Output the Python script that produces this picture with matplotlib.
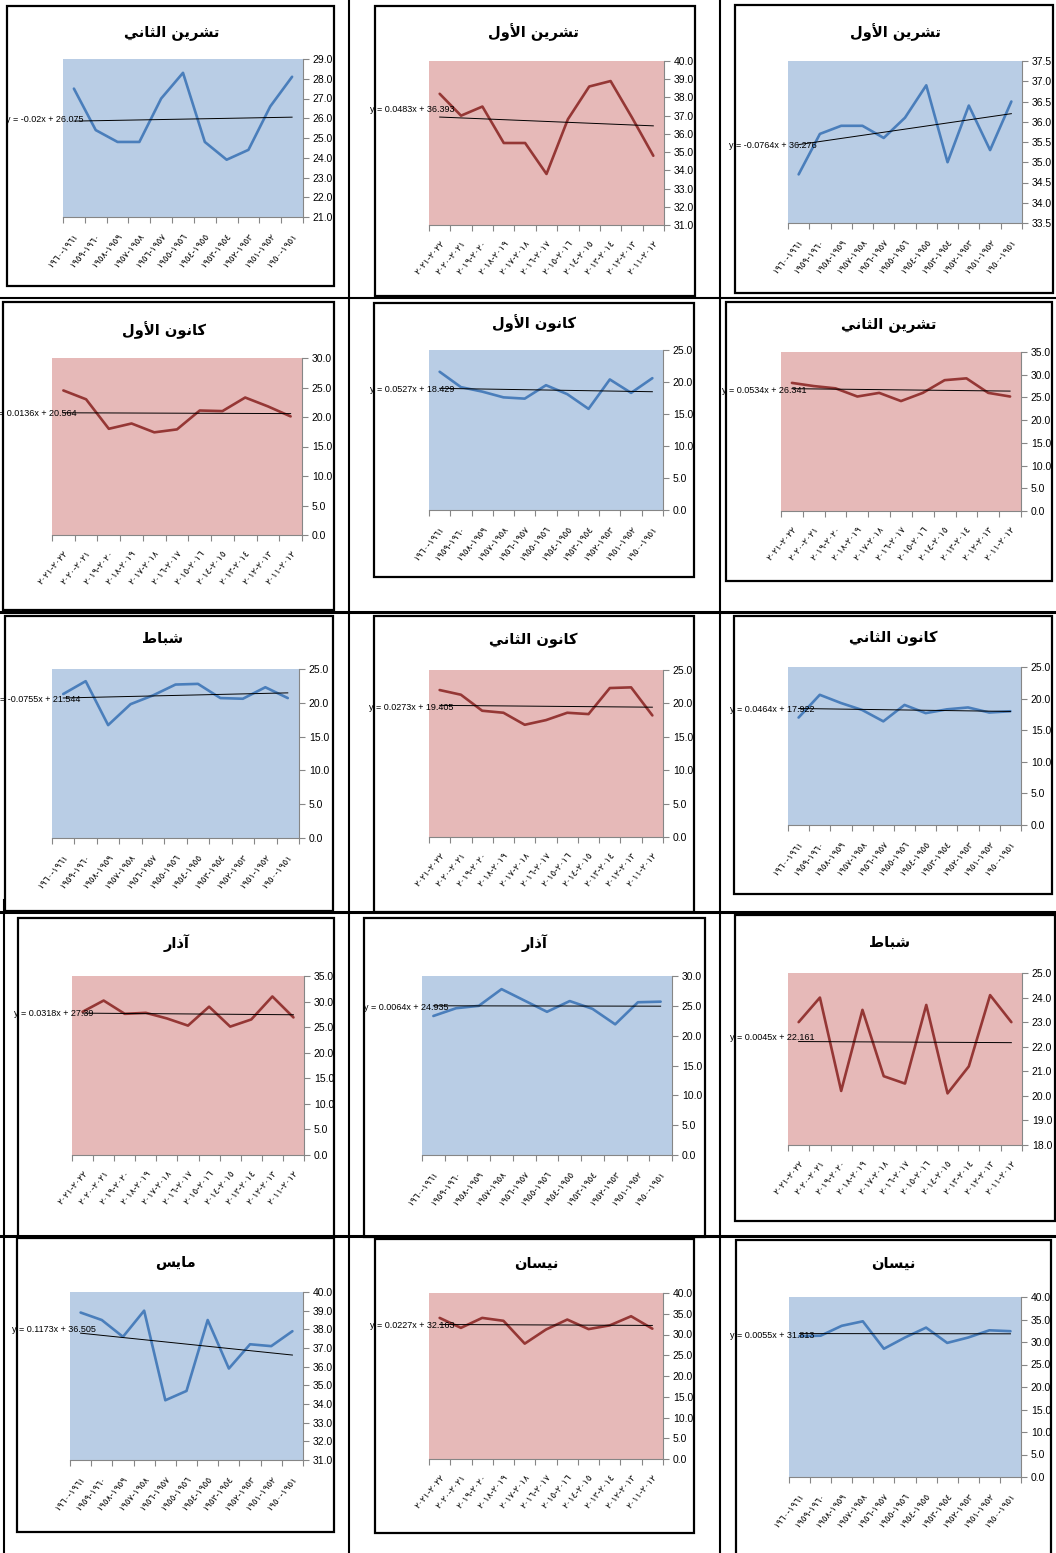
import numpy as np
import matplotlib
matplotlib.use('Agg')
import matplotlib.pyplot as plt
from matplotlib.patches import Rectangle
from matplotlib.lines import Line2D
from matplotlib.ticker import FormatStrFormatter

plt.rcParams['font.family'] = ['Liberation Sans', 'DejaVu Sans']

W, H = 1056, 1553

# x categories (read right-to-left in the original workbook)
hist_periods = ['١٩٦٠-١٩٦١', '١٩٥٩-١٩٦٠', '١٩٥٨-١٩٥٩', '١٩٥٧-١٩٥٨', '١٩٥٦-١٩٥٧', '١٩٥٥-١٩٥٦',
                '١٩٥٤-١٩٥٥', '١٩٥٣-١٩٥٤', '١٩٥٢-١٩٥٣', '١٩٥١-١٩٥٢', '١٩٥٠-١٩٥١']
proj_periods = ['٢٠٢١-٢٠٢٢', '٢٠٢٠-٢٠٢١', '٢٠١٩-٢٠٢٠', '٢٠١٨-٢٠١٩', '٢٠١٧-٢٠١٨', '٢٠١٦-٢٠١٧',
                '٢٠١٥-٢٠١٦', '٢٠١٤-٢٠١٥', '٢٠١٣-٢٠١٤', '٢٠١٢-٢٠١٣', '٢٠١١-٢٠١٢']

# monthly means
nov_hist = [27.5, 25.4, 24.8, 24.8, 27.0, 28.3, 24.8, 23.9, 24.4, 26.6, 28.1]
oct_proj = [38.2, 37.0, 37.5, 35.5, 35.5, 33.8, 36.8, 38.6, 38.9, 36.9, 34.8]
oct_hist = [34.7, 35.7, 35.9, 35.9, 35.6, 36.1, 36.9, 35.0, 36.4, 35.3, 36.5]
dec_proj = [24.5, 23.0, 18.0, 18.9, 17.4, 17.9, 21.1, 21.0, 23.3, 21.8, 20.1]
dec_hist = [21.6, 19.2, 18.5, 17.6, 17.4, 19.5, 18.1, 15.8, 20.4, 18.3, 20.6]
nov_proj = [28.2, 27.5, 27.0, 25.2, 26.0, 24.2, 26.0, 28.8, 29.2, 26.0, 25.2]
feb_hist = [21.3, 23.2, 16.7, 19.8, 21.1, 22.7, 22.8, 20.7, 20.6, 22.3, 20.7]
jan_proj = [22.0, 21.3, 18.9, 18.6, 16.8, 17.5, 18.6, 18.4, 22.3, 22.4, 18.2]
jan_hist = [17.0, 20.6, 19.3, 18.2, 16.4, 19.0, 17.7, 18.3, 18.6, 17.8, 18.0]
mar_proj = [28.0, 30.2, 27.6, 27.8, 26.7, 25.3, 29.0, 25.1, 26.5, 31.0, 26.9]
mar_hist = [23.3, 24.6, 25.0, 27.8, 25.9, 24.0, 25.8, 24.5, 21.9, 25.6, 25.7]
feb_proj = [23.0, 24.0, 20.2, 23.5, 20.8, 20.5, 23.7, 20.1, 21.2, 24.1, 23.0]
may_hist = [38.9, 38.5, 37.6, 39.0, 34.2, 34.7, 38.5, 35.9, 37.2, 37.1, 37.9]
apr_proj = [34.0, 31.6, 34.0, 33.3, 27.8, 31.2, 33.6, 31.3, 32.2, 34.4, 31.4]
apr_hist = [31.3, 31.4, 33.6, 34.6, 28.5, 31.0, 33.2, 29.8, 31.0, 32.6, 32.4]

# linear trend (slope, intercept), x counted 1..11 from the right
fits = [(-0.02, 26.075), (0.0483, 36.393), (-0.0764, 36.276),
        (0.0136, 20.564), (0.0527, 18.429), (0.0534, 26.341),
        (-0.0755, 21.544), (0.0273, 19.405), (0.0464, 17.922),
        (0.0318, 27.39), (0.0064, 24.935), (0.0045, 22.161),
        (0.1173, 36.505), (0.0227, 32.163), (0.0055, 31.813)]

titles = ['تشرين الثاني', 'تشرين الأول', 'تشرين الأول',
          'كانون الأول', 'كانون الأول', 'تشرين الثاني',
          'شباط', 'كانون الثاني', 'كانون الثاني',
          'آذار', 'آذار', 'شباط',
          'مايس', 'نيسان', 'نيسان']

series = [nov_hist, oct_proj, oct_hist,
          dec_proj, dec_hist, nov_proj,
          feb_hist, jan_proj, jan_hist,
          mar_proj, mar_hist, feb_proj,
          may_hist, apr_proj, apr_hist]

kinds = ['h', 'p', 'h', 'p', 'h', 'p', 'h', 'p', 'h', 'p', 'h', 'p', 'h', 'p', 'h']

yscales = [(21, 29, 1), (31, 40, 1), (33.5, 37.5, 0.5),
           (0, 30, 5), (0, 25, 5), (0, 35, 5),
           (0, 25, 5), (0, 25, 5), (0, 25, 5),
           (0, 35, 5), (0, 30, 5), (18, 25, 1),
           (31, 40, 1), (0, 40, 5), (0, 40, 5)]

# pixel layout: plot area, chart frame, title centre, equation right end
layout = [
    ((63, 59, 303, 217), (7, 6, 334, 286), (172, 33), (84, 120)),
    ((429, 61, 664, 225), (375, 6, 695, 296), (534, 32), (454, 110)),
    ((788, 61, 1022, 223), (735, 5, 1053, 293), (895, 32), (817, 146)),
    ((52, 358, 302, 535), (3, 302, 334, 610), (164, 330), (77, 413)),
    ((429, 350, 663, 510), (374, 303, 694, 577), (534, 323), (454, 389)),
    ((781, 352, 1021, 511), (726, 302, 1052, 581), (889, 325), (807, 391)),
    ((52, 669, 299, 838), (5, 616, 333, 911), (163, 638), (80, 699)),
    ((429, 670, 663, 837), (374, 616, 694, 912), (533, 640), (453, 707)),
    ((788, 667, 1021, 825), (734, 616, 1052, 894), (893, 638), (814, 710)),
    ((72, 976, 304, 1155), (18, 918, 334, 1237), (177, 943), (93, 1014)),
    ((422, 976, 672, 1155), (364, 918, 705, 1237), (535, 943), (448, 1007)),
    ((788, 973, 1022, 1145), (735, 915, 1055, 1221), (890, 942), (815, 1037)),
    ((70, 1292, 303, 1460), (17, 1238, 334, 1532), (175, 1263), (96, 1330)),
    ((429, 1293, 663, 1459), (375, 1239, 694, 1533), (536, 1263), (455, 1325)),
    ((789, 1297, 1021, 1477), (736, 1240, 1051, 1560), (893, 1263), (814, 1335)),
]

style = {'h': {'bg': '#B9CDE5', 'line': '#4A7EBB', 'labels': hist_periods},
         'p': {'bg': '#E6B9B8', 'line': '#953735', 'labels': proj_periods}}
axis_gray = '#868686'

# presentation forms: isolated, final, initial, medial
ARABIC_FORMS = {
    'ا': (0xFE8D, 0xFE8E), 'أ': (0xFE83, 0xFE84), 'آ': (0xFE81, 0xFE82),
    'ذ': (0xFEAB, 0xFEAC), 'ر': (0xFEAD, 0xFEAE), 'و': (0xFEED, 0xFEEE),
    'ب': (0xFE8F, 0xFE90, 0xFE91, 0xFE92), 'ت': (0xFE95, 0xFE96, 0xFE97, 0xFE98),
    'ث': (0xFE99, 0xFE9A, 0xFE9B, 0xFE9C), 'س': (0xFEB1, 0xFEB2, 0xFEB3, 0xFEB4),
    'ش': (0xFEB5, 0xFEB6, 0xFEB7, 0xFEB8), 'ط': (0xFEC1, 0xFEC2, 0xFEC3, 0xFEC4),
    'ك': (0xFED9, 0xFEDA, 0xFEDB, 0xFEDC), 'ل': (0xFEDD, 0xFEDE, 0xFEDF, 0xFEE0),
    'م': (0xFEE1, 0xFEE2, 0xFEE3, 0xFEE4), 'ن': (0xFEE5, 0xFEE6, 0xFEE7, 0xFEE8),
    'ي': (0xFEF1, 0xFEF2, 0xFEF3, 0xFEF4),
}
LAM_ALEF = {'ا': (0xFEFB, 0xFEFC), 'أ': (0xFEF7, 0xFEF8), 'آ': (0xFEF5, 0xFEF6)}


def arabic(text):
    # join letters and flip to visual order, since matplotlib draws left to right
    out = []
    i = 0
    while i < len(text):
        ch = text[i]
        forms = ARABIC_FORMS.get(ch)
        if forms is None:
            out.append(ch)
            i += 1
            continue
        prev = text[i - 1] if i else ''
        joins_prev = len(ARABIC_FORMS.get(prev, ())) == 4
        if ch == 'ل' and i + 1 < len(text) and text[i + 1] in LAM_ALEF:
            out.append(chr(LAM_ALEF[text[i + 1]][1 if joins_prev else 0]))
            i += 2
            continue
        joins_next = len(forms) == 4 and i + 1 < len(text) and text[i + 1] in ARABIC_FORMS
        if joins_prev and joins_next:
            c = forms[3]
        elif joins_prev:
            c = forms[1]
        elif joins_next:
            c = forms[2]
        else:
            c = forms[0]
        out.append(chr(c))
        i += 1
    return ''.join(reversed(out))


def fx(x):
    return x / W


def fy(y):
    return 1 - y / H


fig = plt.figure(figsize=(W / 100, H / 100), dpi=100)
fig.patch.set_facecolor('white')

for title, vals, (a, b), kind, (lo, hi, step), spec in zip(titles, series, fits, kinds, yscales, layout):
    (pl, pt, pr, pb), (bl, bt, br, bb), (tx, ty), (ex, ey) = spec
    st = style[kind]
    n = len(vals)
    pos = np.arange(n)

    ax = fig.add_axes([fx(pl), fy(pb), (pr - pl) / W, (pb - pt) / H])
    ax.set_facecolor(st['bg'])
    ax.plot(pos, vals, color=st['line'], lw=1.9, solid_capstyle='round', zorder=3)

    trend = a * (n - pos) + b
    ax.plot(pos[[0, -1]], trend[[0, -1]], color='black', lw=0.7, zorder=4)

    ax.set_xlim(-0.5, n - 0.5)
    ax.set_ylim(lo, hi)
    ax.set_xticks(pos)
    ax.set_xticklabels(st['labels'], rotation=50, ha='right', va='top',
                       rotation_mode='anchor', fontsize=6.5, family=['DejaVu Sans'])
    ax.set_xticks(np.arange(n + 1) - 0.5, minor=True)
    ax.tick_params(axis='x', which='major', length=0, pad=10)
    ax.tick_params(axis='x', which='minor', length=4, width=0.8, color=axis_gray, direction='out')

    ax.yaxis.tick_right()
    ax.set_yticks(np.arange(lo, hi + step / 2, step))
    ax.yaxis.set_major_formatter(FormatStrFormatter('%.1f'))
    ax.tick_params(axis='y', length=4, width=0.8, color=axis_gray, labelsize=7.5, pad=3)

    for side in ('top', 'left'):
        ax.spines[side].set_visible(False)
    for side in ('right', 'bottom'):
        ax.spines[side].set_color(axis_gray)
        ax.spines[side].set_linewidth(0.8)

    fig.add_artist(Rectangle((fx(bl), fy(bb)), (br - bl) / W, (bb - bt) / H,
                             transform=fig.transFigure, fill=False, ec='black', lw=1.6))
    fig.text(fx(tx), fy(ty), arabic(title), ha='center', va='center',
             fontsize=10.5, fontweight='bold', family=['DejaVu Sans'])
    fig.text(fx(ex), fy(ey), f'y = {a:g}x + {b:g}', ha='right', va='center',
             fontsize=6.5, zorder=5)

# table rules around the cells
for x in (349, 720):
    fig.add_artist(Line2D([fx(x), fx(x)], [0, 1], transform=fig.transFigure, color='black', lw=1.5))
fig.add_artist(Line2D([fx(4), fx(4)], [fy(900), 0], transform=fig.transFigure, color='black', lw=1.5))
for y, lw in ((298, 1.5), (612, 2.2), (912, 2.2), (1236, 2.2)):
    fig.add_artist(Line2D([0, 1], [fy(y), fy(y)], transform=fig.transFigure, color='black', lw=lw))

fig.savefig('out.png', dpi=100)
